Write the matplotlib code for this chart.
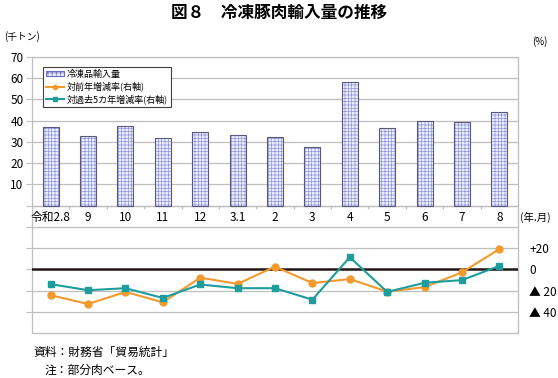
import matplotlib
matplotlib.use('Agg')
import matplotlib.pyplot as plt
from matplotlib.patches import Rectangle
import numpy as np

plt.rcParams['font.family'] = ['Noto Sans CJK JP', 'DejaVu Sans']
plt.rcParams['hatch.linewidth'] = 0.5

# データ（千トン、%）
months = ['令和2.8', '9', '10', '11', '12', '3.1', '2', '3', '4', '5', '6', '7', '8']
imports = [37.1, 33.0, 37.6, 31.9, 34.8, 33.2, 32.5, 27.8, 58.2, 36.6, 39.8, 39.3, 44.2]
yoy = [-24.4, -32.7, -21.3, -31.1, -7.9, -13.7, 2.5, -13.0, -9.2, -21.0, -16.8, -2.9, 19.0]
vs5y = [-14.0, -19.7, -17.8, -27.0, -14.3, -17.8, -17.8, -28.6, 11.4, -21.3, -12.7, -10.2, 3.2]

orange = '#f39a2e'
teal = '#1f9c9c'
grid_c = '#bfbfbf'

fig = plt.figure(figsize=(5.58, 3.78), dpi=100)
ax = fig.add_axes([32 / 558, 1 - 333 / 378, 486 / 558, 276 / 378])
x = np.arange(len(months))

# 棒グラフ（左軸）
ax.bar(x, imports, width=0.43, color='#eceefb', edgecolor='#8f95dd',
       hatch='+++++', linewidth=0, zorder=2)
ax.bar(x, imports, width=0.43, fill=False, edgecolor='#5a5a78', linewidth=0.8, zorder=3)

ax.set_xlim(-0.5, len(months) - 0.5)
ax.set_ylim(-60, 70)
ax.set_yticks(range(-50, 71, 10))
ax.set_yticklabels([str(v) if v > 0 else '' for v in range(-50, 71, 10)], fontsize=8.5)
ax.yaxis.grid(True, color=grid_c, linewidth=0.9, zorder=0)
ax.set_axisbelow(True)
ax.set_xticks([])
ax.tick_params(axis='y', length=4, color=grid_c, pad=2)
for s in ax.spines.values():
    s.set_color(grid_c)
    s.set_linewidth(0.9)

# 横軸（0ライン）と月ラベル
ax.axhline(0, color=grid_c, linewidth=0.9, zorder=1)
ax.vlines(x[:-1] + 0.5, -1.4, 0, color=grid_c, linewidth=0.9)
for i, m in enumerate(months):
    ax.text(i, -5.6, m, ha='center', va='center', fontsize=8.5)
ax.text(len(months) - 0.45, -5.6, '(年.月)', ha='left', va='center', fontsize=7.5,
        clip_on=False)

# 折れ線（右軸）
ax2 = ax.twinx()
ax2.set_ylim(-60, 200)
ax2.axhline(0, color='#231815', linewidth=1.8, zorder=2)
l1, = ax2.plot(x, yoy, color=orange, marker='o', markersize=5, linewidth=1.5, zorder=3)
l2, = ax2.plot(x, vs5y, color=teal, marker='s', markersize=5, linewidth=1.5, zorder=4)
ax2.set_yticks([20, 0, -20, -40])
ax2.set_yticklabels(['+20', '0', '▲ 20', '▲ 40'], fontsize=8.5)
ax2.tick_params(axis='y', length=0, pad=8)
for s in ax2.spines.values():
    s.set_visible(False)

bar_handle = Rectangle((0, 0), 1, 1, facecolor='#eceefb', edgecolor='#6a6fb8',
                       hatch='++++', linewidth=0.8)
leg = ax2.legend([bar_handle, l1, l2],
                 ['冷凍品輸入量', '対前年増減率(右軸)', '対過去5カ年増減率(右軸)'],
                 loc='upper left', bbox_to_anchor=(0.022, 0.965), fontsize=6.5,
                 frameon=True, fancybox=False, edgecolor='#404040', framealpha=1,
                 handlelength=2.0, handleheight=0.55, handletextpad=0.3,
                 labelspacing=0.3, borderpad=0.35, borderaxespad=0)
leg.get_frame().set_linewidth(0.8)
for h in leg.legend_handles[1:]:
    h.set_markersize(3)

# タイトル・単位・注記
fig.text(0.5, 1 - 13 / 378, '図８　冷凍豚肉輸入量の推移', ha='center', va='center',
         fontsize=12, fontweight='bold')
fig.text(4 / 558, 1 - 37 / 378, '(千トン)', ha='left', va='center', fontsize=7)
fig.text(532 / 558, 1 - 42 / 378, '(%)', ha='left', va='center', fontsize=7)
fig.text(33 / 558, 1 - 352 / 378, '資料：財務省「貿易統計」', ha='left', va='center', fontsize=8.5)
fig.text(45 / 558, 1 - 370 / 378, '注：部分肉ベース。', ha='left', va='center', fontsize=8.5)

fig.savefig('out.png', dpi=100)
